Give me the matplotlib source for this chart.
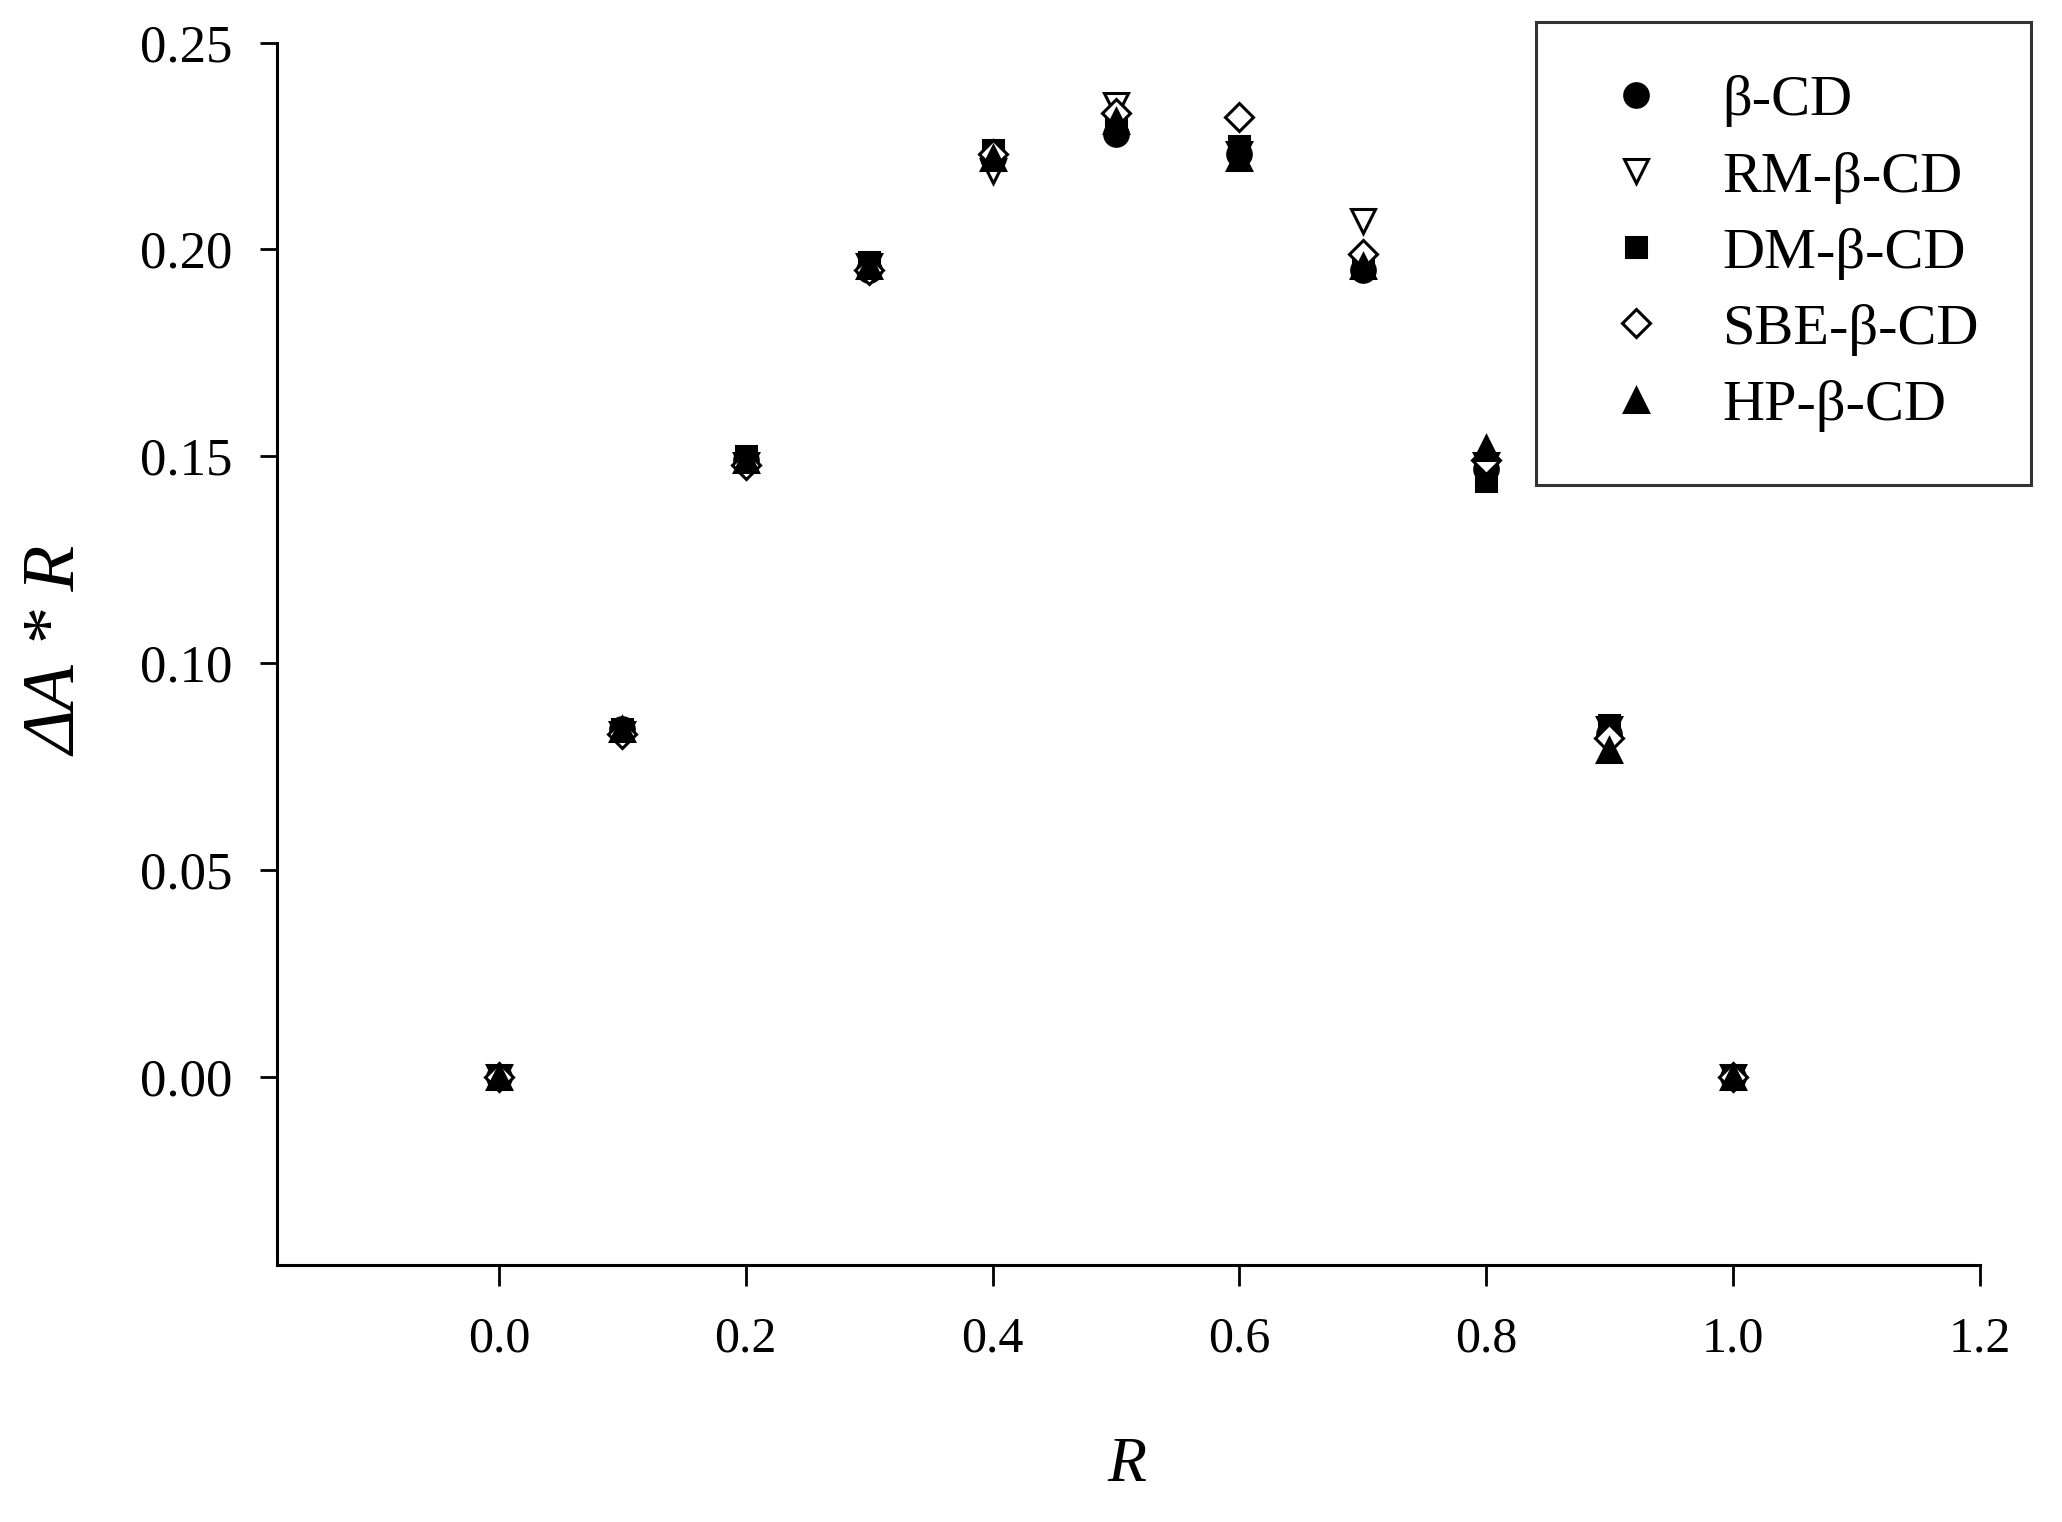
import matplotlib
matplotlib.use("Agg")
import matplotlib.pyplot as plt

plt.rcParams['font.family'] = ['Liberation Serif', 'DejaVu Serif']

R = [0.0, 0.1, 0.2, 0.3, 0.4, 0.5, 0.6, 0.7, 0.8, 0.9, 1.0]
beta_cd = [0.000, 0.084, 0.149, 0.195, 0.222, 0.228, 0.223, 0.195, 0.147, 0.083, 0.000]
rm_beta_cd = [0.000, 0.083, 0.148, 0.196, 0.219, 0.235, 0.223, 0.207, 0.148, 0.084, 0.000]
dm_beta_cd = [0.000, 0.084, 0.150, 0.197, 0.224, 0.230, 0.225, 0.196, 0.144, 0.085, 0.000]
sbe_beta_cd = [0.000, 0.083, 0.148, 0.195, 0.223, 0.233, 0.232, 0.199, 0.149, 0.082, 0.000]
hp_beta_cd = [0.000, 0.084, 0.149, 0.196, 0.222, 0.231, 0.222, 0.196, 0.152, 0.079, 0.000]

series = [
    ("β-CD", beta_cd, 'o', 'black'),
    ("RM-β-CD", rm_beta_cd, 'v', 'white'),
    ("DM-β-CD", dm_beta_cd, 's', 'black'),
    ("SBE-β-CD", sbe_beta_cd, 'D', 'white'),
    ("HP-β-CD", hp_beta_cd, '^', 'black'),
]
sizes = {'o': 17, 'v': 17, 's': 15, 'D': 14, '^': 17}

x_ticks = [0.0, 0.2, 0.4, 0.6, 0.8, 1.0, 1.2]
y_ticks = [0.00, 0.05, 0.10, 0.15, 0.20, 0.25]

fig = plt.figure(figsize=(20.62, 15.22), dpi=100)
ax = fig.add_axes([0.1343, 0.169, 0.8257, 0.803])

handles = []
for name, vals, m, fc in series:
    h, = ax.plot(R, vals, linestyle='none', marker=m, markersize=sizes[m],
                 markerfacecolor=fc, markeredgecolor='black', markeredgewidth=2.2,
                 label=name)
    handles.append(h)

ax.set_xlim(-0.18, 1.2)
ax.set_ylim(-0.0454, 0.25)
ax.set_xticks(x_ticks)
ax.set_xticklabels([f"{v:.1f}" for v in x_ticks])
ax.set_yticks(y_ticks)
ax.set_yticklabels([f"{v:.2f}" for v in y_ticks])

for s in ['top', 'right']:
    ax.spines[s].set_visible(False)
for s in ['left', 'bottom']:
    ax.spines[s].set_linewidth(2.2)

ax.tick_params(axis='x', direction='out', length=15, width=2, pad=22, labelsize=36)
ax.tick_params(axis='y', direction='out', length=12, width=2, pad=20, labelsize=38)

fig.text(0.0287, 0.572, "ΔA * R", rotation=90, ha='center', va='center',
         fontsize=54, style='italic')
fig.text(0.5466, 0.037, "R", ha='center', va='center', fontsize=46, style='italic')

leg = fig.legend(handles=handles, loc='upper right', bbox_to_anchor=(0.985, 0.9855),
                 fontsize=42, frameon=True, fancybox=False, edgecolor='black',
                 borderpad=0.9, handletextpad=0.67, labelspacing=0.40,
                 handlelength=1.62, borderaxespad=0)
leg.get_frame().set_linewidth(2.2)

fig.savefig("out.png", dpi=100)
